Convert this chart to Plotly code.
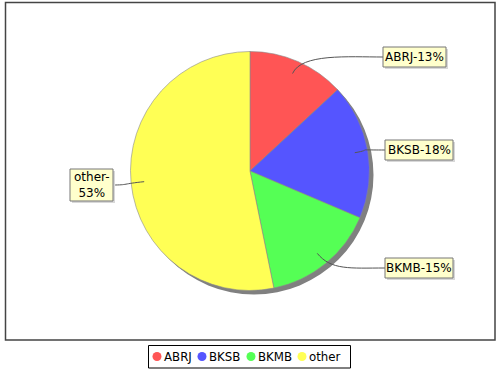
import math
import plotly.graph_objects as go

# ---- data ----
labels = ["ABRJ", "BKSB", "BKMB", "other"]
values = [13.1, 18.3, 15.4, 53.2]
colors = ["#FF5555", "#5555FF", "#55FF55", "#FFFF55"]
label_texts = ["ABRJ-13%", "BKSB-18%", "BKMB-15%", "other-<br>53%"]

W, H = 500, 370
CX, CY, R = 250, 171, 119.5

def px(x):
    return x / W

def py(y):
    return 1 - y / H

fig = go.Figure()

fig.add_trace(go.Pie(
    labels=labels, values=values, sort=False, direction="clockwise", rotation=0,
    marker=dict(colors=colors, line=dict(color="#8a8a8a", width=0.6)),
    textinfo="none", hoverinfo="label+percent", showlegend=False,
    domain=dict(x=[px(CX - R), px(CX + R)], y=[py(CY + R), py(CY - R)]),
))

shapes = []
annotations = []

# plot border
shapes.append(dict(type="rect", xref="paper", yref="paper",
                   x0=px(5.5), x1=px(495), y0=py(340), y1=py(2.5),
                   line=dict(color="#444444", width=1.5), layer="below"))
# pie shadow
shapes.append(dict(type="circle", xref="paper", yref="paper",
                   x0=px(CX - R + 4), x1=px(CX + R + 4), y0=py(CY + R + 4), y1=py(CY - R + 4),
                   fillcolor="#808080", line=dict(width=0), layer="below"))

# label boxes (px) : x0, x1, y0, y1
boxes = [(383, 446, 47, 67), (385, 453, 140, 160), (385, 453, 258, 278), (70, 113, 169, 201)]

total = sum(values)
cum = 0.0
for i, v in enumerate(values):
    mid = (cum + v / 2) / total * 2 * math.pi
    cum += v
    ax = CX + 0.89 * R * math.sin(mid)
    ay = CY - 0.89 * R * math.cos(mid)
    bx0, bx1, by0, by1 = boxes[i]
    bym = (by0 + by1) / 2
    if bx0 > CX:
        ex = bx0
        c2x = ex - 35
    else:
        ex = bx1
        c2x = ex + 15
    c1x = ax + 22 * math.sin(mid)
    c1y = ay - 22 * math.cos(mid)
    path = "M {},{} C {},{} {},{} {},{}".format(
        px(ax), py(ay), px(c1x), py(c1y), px(c2x), py(bym), px(ex), py(bym))
    shapes.append(dict(type="path", xref="paper", yref="paper", path=path,
                       line=dict(color="#555555", width=1)))
    # box shadow
    shapes.append(dict(type="rect", xref="paper", yref="paper",
                       x0=px(bx0 + 2), x1=px(bx1 + 2), y0=py(by1 + 2), y1=py(by0 + 2),
                       fillcolor="#d8d8d8", line=dict(width=0)))
    shapes.append(dict(type="rect", xref="paper", yref="paper",
                       x0=px(bx0), x1=px(bx1), y0=py(by1), y1=py(by0),
                       fillcolor="#FFFFCC", line=dict(color="#777777", width=1)))
    annotations.append(dict(xref="paper", yref="paper", x=px((bx0 + bx1) / 2), y=py(bym),
                            text=label_texts[i], showarrow=False, xanchor="center", yanchor="middle",
                            font=dict(family="DejaVu Sans", size=12, color="#000000")))

# legend
shapes.append(dict(type="rect", xref="paper", yref="paper",
                   x0=px(148.5), x1=px(350.5), y0=py(368), y1=py(345.5),
                   fillcolor="white", line=dict(color="#000000", width=1)))
leg_x = [157, 202, 251, 302]
LY = 356.5
for i, lab in enumerate(labels):
    x = leg_x[i]
    shapes.append(dict(type="circle", xref="paper", yref="paper",
                       x0=px(x - 4.5), x1=px(x + 4.5), y0=py(LY + 4.5), y1=py(LY - 4.5),
                       fillcolor=colors[i], line=dict(width=0)))
    annotations.append(dict(xref="paper", yref="paper", x=px(x + 5), y=py(LY),
                            text=lab, showarrow=False, xanchor="left", yanchor="middle",
                            font=dict(family="DejaVu Sans", size=11.8, color="#000000")))

fig.update_layout(
    width=W, height=H, margin=dict(l=0, r=0, t=0, b=0),
    paper_bgcolor="white", plot_bgcolor="white",
    shapes=shapes, annotations=annotations, showlegend=False,
)

fig.write_html("out.html")
